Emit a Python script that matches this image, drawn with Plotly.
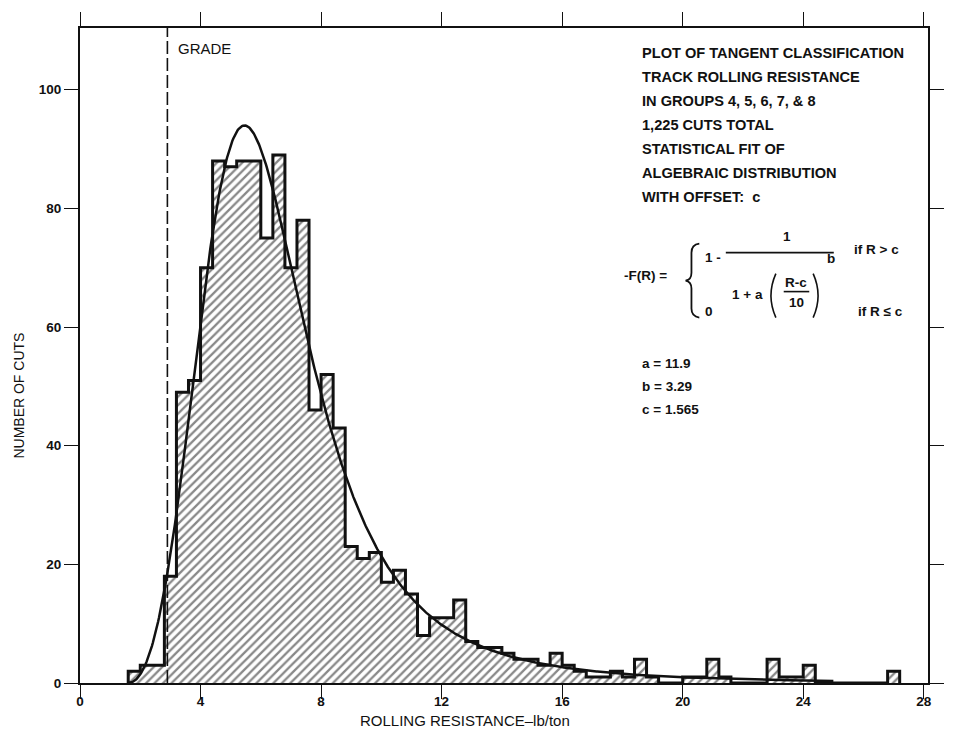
import numpy as np
import plotly.graph_objects as go

# Rolling-resistance classes (left edge, lb/ton) and number of cuts in each 0.4 lb/ton class
BIN_WIDTH = 0.4
bin_left = [1.6, 2.0, 2.4, 2.8, 3.2, 3.6, 4.0, 4.4, 4.8, 5.2, 5.6, 6.0, 6.4, 6.8, 7.2, 7.6,
            8.0, 8.4, 8.8, 9.2, 9.6, 10.0, 10.4, 10.8, 11.2, 11.6, 12.0, 12.4, 12.8, 13.2,
            13.6, 14.0, 14.4, 14.8, 15.2, 15.6, 16.0, 16.4, 16.8, 17.2, 17.6, 18.0, 18.4,
            18.8, 19.2, 19.6, 20.0, 20.4, 20.8, 21.2, 21.6, 22.0, 22.4, 22.8, 23.2, 23.6,
            24.0, 24.4, 24.8, 25.2, 25.6, 26.0, 26.4, 26.8]
cuts = [2, 3, 3, 18, 49, 51, 70, 88, 87, 88, 88, 75, 89, 70, 78, 46,
        52, 43, 23, 21, 22, 17, 19, 15, 8, 11, 11, 14, 7, 6,
        6, 5, 4, 4, 3, 5, 3, 2, 1, 1, 2, 1, 4,
        1, 0, 0, 1, 1, 4, 1, 0, 0, 0, 4, 1, 1,
        3, 0, 0, 0, 0, 0, 0, 2]

# Algebraic distribution with offset, fitted parameters
a_fit = 11.9
b_fit = 3.29
c_fit = 1.565
total_cuts = 1225
grade_r = 2.9

x_ticks = [0, 4, 8, 12, 16, 20, 24, 28]
y_ticks = [0, 20, 40, 60, 80, 100]

info_lines = [
    "PLOT OF TANGENT CLASSIFICATION",
    "TRACK ROLLING RESISTANCE",
    "IN GROUPS 4, 5, 6, 7, & 8",
    "1,225 CUTS TOTAL",
    "STATISTICAL FIT OF",
    "ALGEBRAIC DISTRIBUTION",
    "WITH OFFSET:  c",
]
param_lines = ["a = 11.9", "b = 3.29", "c = 1.565"]

# ---- page geometry ----
W, H = 956, 738
ML, MR, MT, MB = 80, 12, 27, 55
FONT = "Liberation Sans, Arial, Helvetica, sans-serif"
INK = "#111111"


def px(x):
    return (x - ML) / (W - ML - MR)


def py(y):
    return (H - MB - y) / (H - MT - MB)


fig = go.Figure()

# hatched histogram body
centers = [e + BIN_WIDTH / 2 for e in bin_left]
fig.add_trace(go.Bar(
    x=centers, y=cuts, width=BIN_WIDTH,
    marker=dict(color="white", line=dict(width=0),
                pattern=dict(shape="/", fgcolor=INK, bgcolor="white", size=6, solidity=0.38)),
    hoverinfo="skip", showlegend=False,
))

# stepped outline of the histogram
step_x = [bin_left[0]] + bin_left + [bin_left[-1] + BIN_WIDTH]
step_y = [0] + cuts + [0]
fig.add_trace(go.Scatter(
    x=step_x, y=step_y, mode="lines", line=dict(color=INK, width=3, shape="hv"),
    hoverinfo="skip", showlegend=False,
))

# fitted density, scaled to cuts per class
r = np.linspace(c_fit, 25.0, 800)
u = (r - c_fit) / 10.0
dens = a_fit * b_fit * u ** (b_fit - 1) / (10.0 * (1 + a_fit * u ** b_fit) ** 2)
fig.add_trace(go.Scatter(
    x=r, y=total_cuts * BIN_WIDTH * dens, mode="lines",
    line=dict(color=INK, width=2.5), hoverinfo="skip", showlegend=False,
))

shapes = []
# grade line
shapes.append(dict(type="line", xref="x", yref="paper", x0=grade_r, x1=grade_r, y0=0, y1=1,
                   line=dict(color=INK, width=1.6, dash="13px,4px")))

annotations = []


def txt(s, x, y, size=15, anchor="left", weight="normal"):
    annotations.append(dict(text=s, x=px(x), y=py(y), xref="paper", yref="paper",
                            xanchor=anchor, yanchor="middle", showarrow=False,
                            font=dict(family=FONT, size=size, color=INK, weight=weight)))


txt("GRADE", 178, 48, 15)

info_y = [52, 76, 100, 124, 148, 172, 196]
for s, yy in zip(info_lines, info_y):
    txt(s, 651, yy, 14.6, weight="bold")

# formula block
B = "bold"
txt("-F(R) =", 632, 275, 13.5, weight=B)
txt("1 -", 715, 257, 13.5, weight=B)
txt("1", 800, 236, 13.5, "center", weight=B)
txt("1 + a", 742, 294, 13.5, weight=B)
txt("R-c", 810, 282, 13.5, "center", weight=B)
txt("10", 810, 302, 13.5, "center", weight=B)
txt("b", 845, 258, 13.5, "center", weight=B)
txt("if R > c", 867, 249, 13.5, weight=B)
txt("0", 715, 311, 13.5, weight=B)
txt("if R \u2264 c", 871, 311, 13.5, weight=B)

for s, yy in zip(param_lines, [363, 386, 409]):
    txt(s, 651, yy, 13.5, weight=B)


def line_px(x0, y0, x1, y1, w=1.5):
    shapes.append(dict(type="line", xref="paper", yref="paper",
                       x0=px(x0), y0=py(y0), x1=px(x1), y1=py(y1),
                       line=dict(color=INK, width=w)))


def path_px(points, w=1.5):
    # points: list of (cmd, [(x, y), ...])
    parts = []
    for cmd, pts in points:
        coords = " ".join(f"{px(x):.5f},{py(y):.5f}" for x, y in pts)
        parts.append(f"{cmd} {coords}")
    shapes.append(dict(type="path", xref="paper", yref="paper", path=" ".join(parts),
                       line=dict(color=INK, width=w)))


line_px(738, 252, 848, 252, 1.8)   # main fraction bar
line_px(797, 291, 823, 291, 1.6)   # (R-c)/10 bar
# brace
path_px([("M", [(711, 243)]), ("Q", [(703, 244), (703, 252)]), ("L", [(703, 272)]),
         ("Q", [(703, 279), (697, 280)]), ("Q", [(703, 281), (703, 288)]),
         ("L", [(703, 308)]), ("Q", [(703, 316), (711, 317)])], 1.8)
# parentheses
path_px([("M", [(789, 273)]), ("Q", [(779, 295), (789, 317)])], 1.6)
path_px([("M", [(827, 273)]), ("Q", [(837, 295), (827, 317)])], 1.6)

# axis titles
txt("ROLLING RESISTANCE\u2013lb/ton", 472, 721, 15, "center")
annotations.append(dict(text="NUMBER OF CUTS", x=px(18), y=py(395), xref="paper", yref="paper",
                        xanchor="center", yanchor="middle", textangle=-90, showarrow=False,
                        font=dict(family=FONT, size=14, color=INK)))

axis_common = dict(showline=True, linecolor=INK, linewidth=2, mirror="ticks",
                   ticks="outside", ticklen=14, tickwidth=1.4, tickcolor=INK,
                   showgrid=False, zeroline=False,
                   tickfont=dict(family=FONT, size=13.5, color=INK, weight="bold"))

fig.update_layout(
    width=W, height=H,
    margin=dict(l=ML, r=MR, t=MT, b=MB, pad=0),
    paper_bgcolor="white", plot_bgcolor="white",
    bargap=0, showlegend=False,
    xaxis=dict(range=[0, 28.14], tickvals=x_ticks, ticktext=[str(v) for v in x_ticks],
               ticklabelstandoff=-9, **axis_common),
    yaxis=dict(range=[0, 110.4], tickvals=y_ticks, ticktext=[str(v) for v in y_ticks], **axis_common),
    shapes=shapes, annotations=annotations,
)

fig.write_html("out.html")
